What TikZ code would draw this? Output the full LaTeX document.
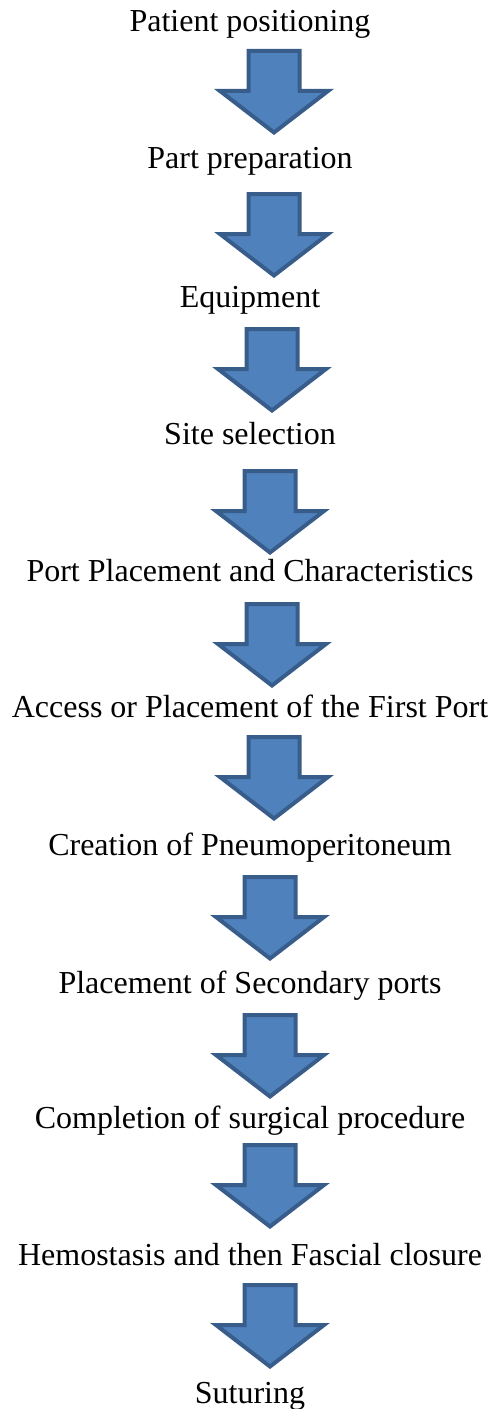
\documentclass[tikz,border=0pt]{standalone}
\usepackage{fontspec}
\setmainfont{Liberation Serif}
\newfontfamily\stepfont{Liberation Serif}
\definecolor{arrowfill}{HTML}{4F81BD}
\definecolor{arrowline}{HTML}{385D8A}
\tikzset{
  step label/.style={anchor=base, inner sep=0pt, font=\stepfont\fontsize{24}{28}\selectfont, text=black},
  block arrow/.style={fill=arrowfill, draw=arrowline, line width=3pt, line join=miter, miter limit=10},
  pics/barrow/.style={code={
    \path[block arrow] (-25.5,2) -- (25.5,2) -- (25.5,42) -- (54,42) -- (0,83.5) -- (-54,42) -- (-25.5,42) -- cycle;
  }}
}
\begin{document}
\begin{tikzpicture}[x=0.75pt,y=-0.75pt]
\useasboundingbox (0,0) rectangle (494,1409);
\node[step label] (s1) at (250,32) {Patient positioning};
\node[step label] (s2) at (250,169) {Part preparation};
\node[step label] (s3) at (250,307) {Equipment};
\node[step label] (s4) at (250,444) {Site selection};
\node[step label] (s5) at (250,581) {Port Placement and Characteristics};
\node[step label] (s6) at (250,717) {Access or Placement of the First Port};
\node[step label] (s7) at (250,855) {Creation of Pneumoperitoneum};
\node[step label] (s8) at (250,993) {Placement of Secondary ports};
\node[step label] (s9) at (250,1128) {Completion of surgical procedure};
\node[step label] (s10) at (250,1265) {Hemostasis and then Fascial closure};
\node[step label] (s11) at (250,1403) {Suturing};
\pic at (274,49) {barrow};
\pic at (274,192) {barrow};
\pic at (272,327) {barrow};
\pic at (270,469) {barrow};
\pic at (272,602) {barrow};
\pic at (274,735) {barrow};
\pic at (270,875) {barrow};
\pic at (270,1013) {barrow};
\pic at (270,1143) {barrow};
\pic at (270,1283) {barrow};
\end{tikzpicture}
\end{document}
